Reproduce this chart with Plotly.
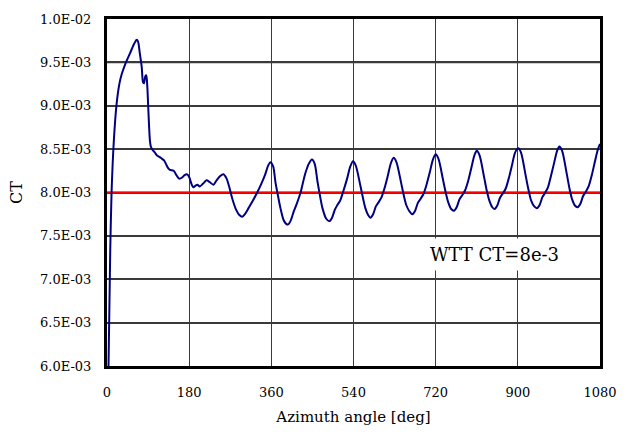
import plotly.graph_objects as go

# Azimuth angle [deg]
AZIMUTH = [
    3, 7, 10, 15, 21, 27, 32, 40, 50, 60, 65, 68, 72, 76, 79, 81, 84, 86, 88, 91, 94, 96,
    100, 105, 109, 115, 120, 125, 130, 134, 138, 146, 152, 158, 164, 170, 175, 180, 185,
    189, 194, 198, 203, 210, 218, 225, 233, 240, 248, 255, 262, 268, 275, 283, 290, 296,
    302, 310, 320, 329, 338, 346, 353,
    358, 364, 369, 375, 380, 388, 396, 402, 409, 415, 424, 430, 435, 442,
    449, 455, 461, 467, 472, 480, 487, 493, 499, 504, 511, 518, 526, 533,
    539, 545, 555, 561, 566, 572, 577, 583, 589, 594, 601, 608, 615, 622,
    628, 634, 644, 650, 656, 663, 669, 675, 681, 686, 693, 700, 707, 714,
    720, 726, 736, 742, 748, 754, 760, 766, 772, 777, 784, 791, 798, 805,
    810, 816, 826, 832, 838, 844, 849, 855, 861, 866, 873, 880, 887, 894,
    901, 907, 917, 923, 929, 936, 942, 948, 954, 959, 966, 972, 979, 986,
    991, 997, 1007, 1013, 1019, 1025, 1031, 1037, 1043, 1048, 1055, 1062, 1069, 1075,
    1080,
]
# CT values in units of 1e-3
CT_MILLI = [
    5.9, 7.3, 8.0, 8.6, 9.02, 9.25, 9.36, 9.48, 9.60, 9.72, 9.76, 9.74, 9.60, 9.45, 9.27,
    9.26, 9.34, 9.35, 9.25, 8.90, 8.60, 8.53,
    8.49, 8.46, 8.43, 8.41, 8.39, 8.37, 8.32, 8.28, 8.26, 8.25, 8.20, 8.16, 8.17, 8.20,
    8.21, 8.18, 8.10, 8.06, 8.08, 8.09, 8.07, 8.10, 8.14, 8.12, 8.09, 8.14, 8.19, 8.21,
    8.16, 8.06, 7.92, 7.80, 7.74, 7.72, 7.75, 7.82, 7.91, 8.00, 8.10, 8.20, 8.31,
    8.35, 8.30, 8.12, 7.95, 7.82, 7.67, 7.63, 7.67, 7.78, 7.86, 8.00, 8.13, 8.23, 8.33,
    8.38, 8.33, 8.13, 7.95, 7.82, 7.70, 7.67, 7.71, 7.80, 7.85, 7.91, 8.02, 8.16, 8.30,
    8.36, 8.31, 8.08, 7.93, 7.82, 7.74, 7.71, 7.75, 7.84, 7.88, 7.94, 8.05, 8.19, 8.34,
    8.40, 8.35, 8.12, 7.97, 7.85, 7.78, 7.75, 7.79, 7.88, 7.92, 7.98, 8.09, 8.23, 8.38,
    8.44, 8.39, 8.15, 8.00, 7.88, 7.81, 7.79, 7.83, 7.92, 7.96, 8.02, 8.13, 8.28, 8.43,
    8.48, 8.43, 8.18, 8.02, 7.90, 7.83, 7.81, 7.85, 7.94, 7.98, 8.04, 8.16, 8.31, 8.46,
    8.51, 8.46, 8.20, 8.04, 7.91, 7.84, 7.82, 7.86, 7.95, 7.99, 8.06, 8.18, 8.33, 8.48,
    8.53, 8.48, 8.22, 8.05, 7.92, 7.85, 7.83, 7.87, 7.96, 8.00, 8.07, 8.20, 8.36, 8.49,
    8.56,
]

WTT_X = [0, 1080]
WTT_CT_MILLI = [8.0, 8.0]
WTT_LABEL = "WTT CT=8e-3"

X_TICKS = [0, 180, 360, 540, 720, 900, 1080]
Y_TICKS_MILLI = [6.0, 6.5, 7.0, 7.5, 8.0, 8.5, 9.0, 9.5, 10.0]
Y_TICK_TEXT = ["6.0E-03", "6.5E-03", "7.0E-03", "7.5E-03", "8.0E-03",
               "8.5E-03", "9.0E-03", "9.5E-03", "1.0E-02"]

FONT = "DejaVu Serif"
GRID = "#3a3a3a"

fig = go.Figure()

# horizontal grid lines at the y tick values (drawn on the y scale)
for v in Y_TICKS_MILLI[1:-1]:
    fig.add_hline(y=v, line=dict(color=GRID, width=1.5), layer="below")

fig.add_trace(go.Scatter(x=WTT_X, y=WTT_CT_MILLI, mode="lines",
                         line=dict(color="#ff0000", width=2.2), showlegend=False))
fig.add_trace(go.Scatter(x=AZIMUTH, y=CT_MILLI, mode="lines",
                         line=dict(color="#000080", width=2, shape="spline", smoothing=0.8),
                         showlegend=False))

fig.add_annotation(x=849, y=7.28, text=WTT_LABEL, showarrow=False,
                   font=dict(family=FONT, size=18, color="black"),
                   bgcolor="white", borderpad=5)

fig.update_xaxes(range=[0, 1080], tickmode="array", tickvals=X_TICKS,
                 showline=True, linewidth=3, linecolor="black", mirror=True,
                 showgrid=True, gridcolor=GRID, gridwidth=1, zeroline=False,
                 ticks="outside", ticklen=12, tickcolor="rgba(0,0,0,0)",
                 tickfont=dict(family=FONT, size=13, color="black"),
                 title=dict(text="Azimuth angle [deg]", font=dict(family=FONT, size=15, color="black"),
                            standoff=13))
fig.update_yaxes(range=[6.0, 10.0], tickmode="array", tickvals=Y_TICKS_MILLI, ticktext=Y_TICK_TEXT,
                 showline=True, linewidth=3, linecolor="black", mirror=True,
                 showgrid=True, gridcolor=GRID, gridwidth=1.5, zeroline=False,
                 ticks="outside", ticklen=10, tickcolor="rgba(0,0,0,0)",
                 tickfont=dict(family=FONT, size=13, color="black"),
                 title=dict(text="CT", font=dict(family=FONT, size=16, color="black"),
                            standoff=14))

fig.update_layout(width=629, height=435, margin=dict(l=107, r=29, t=14, b=68),
                  paper_bgcolor="white", plot_bgcolor="white",
                  font=dict(family=FONT, color="black"))

fig.write_html("out.html")
